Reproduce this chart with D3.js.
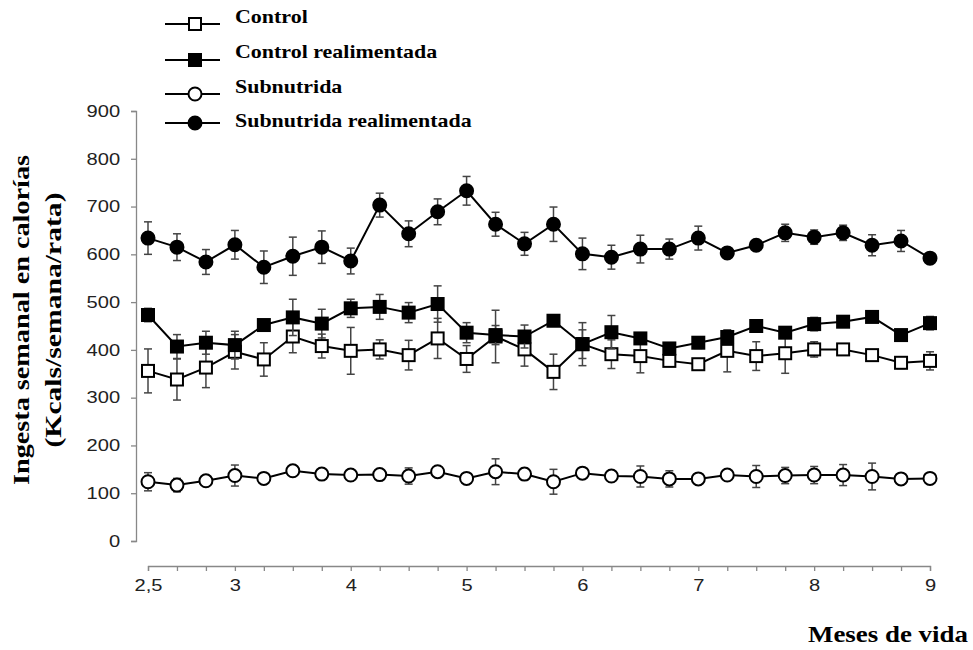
<!DOCTYPE html>
<html>
<head>
<meta charset="utf-8">
<script src="https://cdn.jsdelivr.net/npm/d3@7"></script>
<style>
  body { margin: 0; background: #fff; }
  svg { display: block; }
</style>
</head>
<body>
<svg></svg>
<script>
// Chart size
let width = 973,
  height = 650;

let svg = d3.select("svg").attr("width", width).attr("height", height);

// weekly points (28), labelled in months
let xTickLabels = ["2,5", "", "", "3", "", "", "", "4", "", "", "", "5", "", "", "", "6", "", "", "", "7", "", "", "", "8", "", "", "", "9"];
let yTicks = [0, 100, 200, 300, 400, 500, 600, 700, 800, 900];

let seriesNames = ["Control", "Control realimentada", "Subnutrida", "Subnutrida realimentada"];

let control = [356, 338, 363, 396, 380, 428, 408, 398, 401, 389, 424, 381, 428, 401, 354, 412, 391, 387, 377, 370, 398, 387, 393, 401, 401, 389, 373, 377];
let controlErr = [46, 43, 42, 36, 35, 34, 25, 49, 20, 31, 42, 28, 55, 35, 37, 45, 30, 35, 10, 8, 44, 30, 42, 16, 6, 10, 12, 19];

let controlRe = [473, 407, 415, 410, 452, 468, 455, 487, 490, 478, 496, 436, 431, 428, 461, 412, 437, 424, 403, 415, 427, 450, 436, 454, 459, 469, 431, 456];
let controlReErr = [14, 25, 24, 29, 8, 38, 30, 19, 26, 21, 38, 21, 20, 24, 6, 30, 35, 10, 10, 12, 10, 8, 10, 14, 8, 10, 8, 14];

let subnut = [124, 117, 126, 137, 131, 147, 140, 138, 139, 136, 145, 131, 145, 140, 124, 142, 136, 135, 130, 130, 138, 135, 137, 138, 138, 135, 130, 131];
let subnutErr = [19, 14, 10, 22, 6, 8, 6, 8, 6, 17, 8, 6, 27, 12, 26, 6, 8, 22, 17, 8, 8, 23, 17, 18, 22, 28, 8, 4];

let subnutRe = [634, 615, 584, 620, 573, 596, 615, 586, 703, 643, 689, 733, 663, 622, 663, 601, 594, 611, 611, 634, 603, 619, 645, 636, 645, 619, 628, 592];
let subnutReErr = [34, 28, 26, 30, 34, 40, 34, 27, 25, 27, 27, 30, 25, 24, 36, 33, 25, 29, 21, 25, 0, 0, 18, 15, 16, 22, 22, 0];

let series = [
  { name: seriesNames[0], values: control, err: controlErr, shape: "square", fill: "#fff" },
  { name: seriesNames[1], values: controlRe, err: controlReErr, shape: "square", fill: "#000" },
  { name: seriesNames[2], values: subnut, err: subnutErr, shape: "circle", fill: "#fff" },
  { name: seriesNames[3], values: subnutRe, err: subnutReErr, shape: "circle", fill: "#000" }
];

let serif = "Liberation Serif, Times New Roman, serif";
let sans = "Liberation Sans, Arial, sans-serif";

// scales
let x = d3.scaleLinear().domain([0, xTickLabels.length - 1]).range([148, 930]);
let y = d3.scaleLinear().domain([0, 900]).range([541, 111]);

// y axis
let yAxis = svg.append("g")
  .attr("transform", "translate(136,0)")
  .call(d3.axisLeft(y).tickValues(yTicks).tickSize(5).tickPadding(8));
yAxis.selectAll("path, line").attr("stroke", "#888").attr("stroke-width", 1.3);
yAxis.selectAll("text")
  .attr("font-family", sans)
  .attr("font-size", 16.5)
  .attr("fill", "#222")
  .attr("transform", "scale(1.22,1)");

// x axis (separate, lower)
let xAxis = svg.append("g")
  .attr("transform", "translate(0,566)")
  .call(d3.axisBottom(x)
    .tickValues(d3.range(xTickLabels.length))
    .tickFormat((d) => xTickLabels[d])
    .tickSize(5)
    .tickSizeOuter(5)
    .tickPadding(8));
xAxis.selectAll("path, line").attr("stroke", "#888").attr("stroke-width", 1.3);
xAxis.selectAll("text")
  .attr("font-family", sans)
  .attr("font-size", 16.5)
  .attr("fill", "#222")
  .attr("transform", "scale(1.22,1)");

// marker helper
function drawMarker(sel, shape, fill, size) {
  if (shape === "square") {
    sel.append("rect")
      .attr("x", -size / 2).attr("y", -size / 2)
      .attr("width", size).attr("height", size)
      .attr("fill", fill).attr("stroke", "#000").attr("stroke-width", 2);
  } else {
    sel.append("circle")
      .attr("r", size / 2 + 0.5)
      .attr("fill", fill).attr("stroke", "#000").attr("stroke-width", 2);
  }
}

let line = d3.line().x((d, i) => x(i)).y((d) => y(d));

series.forEach((s) => {
  let g = svg.append("g").attr("class", "series");

  // error bars
  let eb = g.append("g").selectAll("g")
    .data(s.values.map((v, i) => ({ i: i, v: v, e: s.err[i] })).filter((d) => d.e > 0))
    .enter().append("g")
    .attr("stroke", "#444").attr("stroke-width", 1.5);
  eb.append("line")
    .attr("x1", (d) => x(d.i)).attr("x2", (d) => x(d.i))
    .attr("y1", (d) => y(d.v + d.e)).attr("y2", (d) => y(d.v - d.e));
  eb.append("line")
    .attr("x1", (d) => x(d.i) - 4).attr("x2", (d) => x(d.i) + 4)
    .attr("y1", (d) => y(d.v + d.e)).attr("y2", (d) => y(d.v + d.e));
  eb.append("line")
    .attr("x1", (d) => x(d.i) - 4).attr("x2", (d) => x(d.i) + 4)
    .attr("y1", (d) => y(d.v - d.e)).attr("y2", (d) => y(d.v - d.e));

  // line
  g.append("path")
    .attr("d", line(s.values))
    .attr("fill", "none")
    .attr("stroke", "#000")
    .attr("stroke-width", 2);

  // markers
  g.append("g").selectAll("g")
    .data(s.values)
    .enter().append("g")
    .attr("transform", (d, i) => "translate(" + x(i) + "," + y(d) + ")")
    .each(function () { drawMarker(d3.select(this), s.shape, s.fill, 12); });
});

// legend
let legendY = [24, 60, 94, 123];
let legendTextY = [23, 58, 93, 127];
let legend = svg.append("g").attr("id", "legend");
series.forEach((s, k) => {
  let lg = legend.append("g").attr("transform", "translate(0," + legendY[k] + ")");
  lg.append("line")
    .attr("x1", 165).attr("x2", 220)
    .attr("stroke", "#000").attr("stroke-width", 2);
  drawMarker(lg.append("g").attr("transform", "translate(195,0)"), s.shape, s.fill, 12);
  legend.append("text")
    .attr("transform", "translate(235," + legendTextY[k] + ") scale(1.22,1)")
    .attr("font-family", serif)
    .attr("font-weight", "bold")
    .attr("font-size", 18)
    .text(s.name);
});

// axis titles
let yTitle = svg.append("g")
  .attr("font-family", serif)
  .attr("font-weight", "bold")
  .attr("font-size", 24)
  .attr("text-anchor", "middle");
yTitle.append("text")
  .attr("transform", "translate(29,320) rotate(-90)")
  .attr("textLength", 330)
  .attr("lengthAdjust", "spacingAndGlyphs")
  .text("Ingesta semanal en calorías");
yTitle.append("text")
  .attr("transform", "translate(61,320) rotate(-90)")
  .attr("textLength", 255)
  .attr("lengthAdjust", "spacingAndGlyphs")
  .text("(Kcals/semana/rata)");

svg.append("text")
  .attr("x", 808).attr("y", 642)
  .attr("textLength", 160)
  .attr("lengthAdjust", "spacingAndGlyphs")
  .attr("font-family", serif)
  .attr("font-weight", "bold")
  .attr("font-size", 23)
  .text("Meses de vida");
</script>
</body>
</html>
